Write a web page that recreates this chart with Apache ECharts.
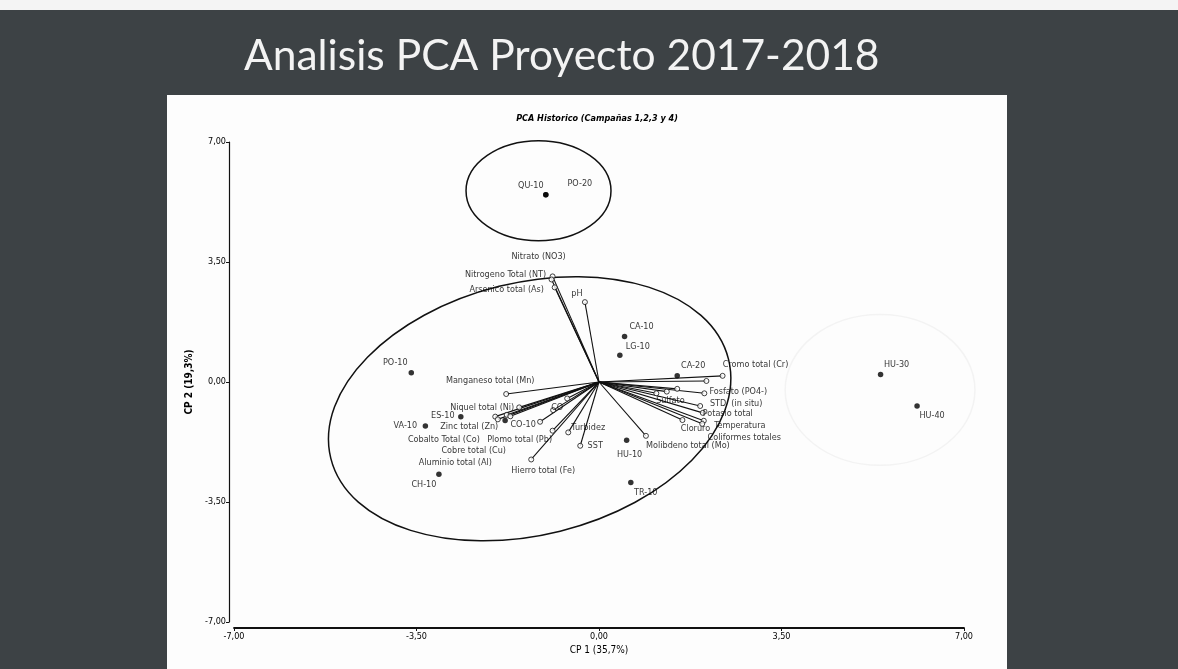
<!DOCTYPE html>
<html lang="es">
<head>
<meta charset="UTF-8"/>
<title>Analisis PCA Proyecto 2017-2018</title>
<script src="https://cdn.jsdelivr.net/npm/echarts@6/dist/echarts.min.js"></script>
<style>
    html, body {margin: 0; padding: 0; background: #3d4245;}
    #main {width: 1178px; height: 669px;}
</style>
</head>
<body>
<div id="main"></div>
<script type="text/javascript">
    // marcas de los ejes
    var ticks = [-7, -3.5, 0, 3.5, 7];

    // observaciones (puntos negros)
    var obsNames = ['QU-10', 'PO-20', 'CA-10', 'LG-10', 'CA-20', 'PO-10', 'ES-10', 'VA-10', 'CH-10', 'CO-10', 'HU-10', 'TR-10', 'HU-30', 'HU-40'];
    var obsX = [-1.02, -1.02, 0.49, 0.40, 1.50, -3.60, -2.65, -3.33, -3.07, -1.80, 0.53, 0.61, 5.40, 6.10];
    var obsY = [5.46, 5.46, 1.33, 0.78, 0.18, 0.27, -1.01, -1.28, -2.69, -1.12, -1.70, -2.93, 0.22, -0.70];

    // variables (vectores desde el origen)
    var varNames = ['Nitrato (NO3)', 'Nitrogeno Total (NT)', 'Arsenico total (As)', 'pH',
        'Cromo total (Cr)', '', 'Fosfato (PO4-)', 'STD  (in situ)', 'Sulfato', 'Potasio total',
        'Cloruro', 'Temperatura', 'Coliformes totales', 'Molibdeno total (Mo)',
        'Manganeso total (Mn)', 'Niquel total (Ni)', 'CO', 'Zinc total (Zn)', 'Cobalto Total (Co)',
        'Cobre total (Cu)', 'Aluminio total (Al)', 'Plomo total (Pb)', 'Hierro total (Fe)',
        'Turbidez', 'SST', '', '', '', ''];
    var varX = [-0.89, -0.91, -0.85, -0.27, 2.37, 2.06, 2.02, 1.94, 1.10, 1.99, 1.60, 2.01, 1.98, 0.90,
        -1.78, -1.53, -0.61, -1.99, -1.94, -1.77, -1.70, -0.89, -1.30, -0.59, -0.36, 1.50, 1.30, -1.13, -0.88];
    var varY = [3.08, 2.99, 2.76, 2.33, 0.18, 0.03, -0.33, -0.70, -0.33, -0.90, -1.11, -1.13, -1.22, -1.57,
        -0.35, -0.74, -0.48, -1.01, -1.09, -0.96, -1.00, -1.42, -2.26, -1.47, -1.86, -0.20, -0.28, -1.16, -0.82];

    // elipses: centro, radios, giro en grados
    var ellCx = [-1.16, -1.33, 5.39];
    var ellCy = [5.58, -0.78, -0.23];
    var ellRx = [1.39, 3.93, 1.82];
    var ellRy = [1.46, 3.68, 2.20];
    var ellRot = [0, 14, 0];
    var ellColor = ['#111', '#111', '#f3f3f3'];

    // desplazamiento de las etiquetas (px, centro del texto)
    var labelOffset = {
        'QU-10': [-15, -9], 'PO-20': [34, -11], 'CA-10': [17, -10], 'LG-10': [18, -9], 'CA-20': [16, -10],
        'PO-10': [-16, -10], 'ES-10': [-18, -1], 'VA-10': [-20, 0], 'CH-10': [-15, 10], 'CO-10': [18, 4],
        'HU-10': [3, 14], 'TR-10': [15, 10], 'HU-30': [16, -10], 'HU-40': [15, 10],
        'Nitrato (NO3)': [-14, -20], 'Nitrogeno Total (NT)': [-46, -5], 'Arsenico total (As)': [-48, 2],
        'pH': [-8, -8], 'Cromo total (Cr)': [33, -11], 'Fosfato (PO4-)': [34, -2], 'STD  (in situ)': [36, -2],
        'Sulfato': [14, 7], 'Potasio total': [25, 1], 'Cloruro': [13, 9], 'Temperatura': [36, 5],
        'Coliformes totales': [42, 14], 'Molibdeno total (Mo)': [42, 10], 'Manganeso total (Mn)': [-16, -13],
        'Niquel total (Ni)': [-37, 0], 'CO': [-10, 9], 'Zinc total (Zn)': [-26, 10], 'Cobalto Total (Co)': [-54, 20],
        'Cobre total (Cu)': [-33, 36], 'Aluminio total (Al)': [-55, 46], 'Plomo total (Pb)': [-33, 9],
        'Hierro total (Fe)': [12, 11], 'Turbidez': [20, -5], 'SST': [15, 0]
    };

    var narrow = "'Liberation Sans Narrow', 'DejaVu Sans Condensed', 'Liberation Sans', sans-serif";

    function fmt(v) {
        return v.toFixed(2).replace('.', ',');
    }

    function labelled(name, x, y) {
        var off = labelOffset[name] || [0, 0];
        return {
            name: name,
            value: [x, y],
            label: {show: name !== '', position: 'inside', offset: off}
        };
    }

    var obsData = obsNames.map(function (n, i) { return labelled(n, obsX[i], obsY[i]); });
    var varData = varNames.map(function (n, i) { return labelled(n, varX[i], varY[i]); });
    var varLines = varX.map(function (x, i) { return {coords: [[0, 0], [x, varY[i]]]}; });
    var ellData = ellCx.map(function (c, i) { return [c, ellCy[i], ellRx[i], ellRy[i], ellRot[i], i]; });

    var myChart = echarts.init(document.getElementById('main'));

    var option = {
        backgroundColor: '#3d4245',
        animation: false,
        graphic: [
            {type: 'rect', z: -10, shape: {x: 0, y: 0, width: 1178, height: 10}, style: {fill: '#f4f4f4'}},
            {type: 'rect', z: -10, shape: {x: 167, y: 95, width: 840, height: 574}, style: {fill: '#fdfdfd'}},
            {
                type: 'text', x: 244, y: 56, z: 10,
                style: {
                    text: 'Analisis PCA Proyecto 2017-2018', fill: '#f3f3f3', font: '42.5px Lato, sans-serif',
                    textAlign: 'left', textVerticalAlign: 'middle'
                }
            },
            {
                type: 'text', x: 597, y: 119, z: 10,
                style: {
                    text: 'PCA Historico (Campañas 1,2,3 y 4)', fill: '#000',
                    font: 'italic bold 9px ' + narrow, textAlign: 'center', textVerticalAlign: 'middle'
                }
            }
        ],
        grid: {left: 234, right: 214, top: 142, bottom: 47},
        xAxis: {
            type: 'value', min: ticks[0], max: ticks[ticks.length - 1], interval: 3.5,
            offset: 6,
            name: 'CP 1 (35,7%)', nameLocation: 'middle', nameGap: 16,
            nameTextStyle: {color: '#000', fontSize: 10, fontFamily: narrow},
            axisLine: {onZero: false, lineStyle: {color: '#111', width: 1.8}},
            axisTick: {length: 3, lineStyle: {color: '#111'}},
            axisLabel: {formatter: fmt, color: '#000', fontSize: 9, fontFamily: narrow, margin: 4},
            splitLine: {show: false}
        },
        yAxis: {
            type: 'value', min: ticks[0], max: ticks[ticks.length - 1], interval: 3.5,
            offset: 5,
            name: 'CP 2 (19,3%)', nameLocation: 'middle', nameGap: 22, nameRotate: 90,
            nameTextStyle: {color: '#000', fontSize: 10, fontWeight: 'bold', fontFamily: narrow},
            axisLine: {onZero: false, lineStyle: {color: '#111', width: 1.2}},
            axisTick: {length: 3, lineStyle: {color: '#111'}},
            axisLabel: {formatter: fmt, color: '#000', fontSize: 9, fontFamily: narrow, margin: 3},
            splitLine: {show: false}
        },
        series: [
            {
                type: 'custom',
                data: ellData,
                silent: true,
                z: 1,
                renderItem: function (params, api) {
                    var c = api.coord([api.value(0), api.value(1)]);
                    var s = api.size([api.value(2), api.value(3)]);
                    return {
                        type: 'ellipse',
                        x: c[0], y: c[1],
                        rotation: api.value(4) * Math.PI / 180,
                        shape: {cx: 0, cy: 0, rx: s[0], ry: s[1]},
                        style: {fill: 'none', stroke: ellColor[api.value(5)], lineWidth: 1.5}
                    };
                }
            },
            {
                type: 'lines',
                coordinateSystem: 'cartesian2d',
                data: varLines,
                silent: true,
                z: 2,
                lineStyle: {color: '#111', width: 1.1, opacity: 1}
            },
            {
                type: 'scatter',
                data: varData,
                symbol: 'circle',
                symbolSize: 5,
                z: 3,
                itemStyle: {color: '#fff', borderColor: '#111', borderWidth: 1},
                label: {formatter: '{b}', color: '#000', fontSize: 9, fontFamily: narrow}
            },
            {
                type: 'scatter',
                data: obsData,
                symbol: 'circle',
                symbolSize: 5.5,
                z: 4,
                itemStyle: {color: '#000'},
                label: {formatter: '{b}', color: '#000', fontSize: 9, fontFamily: narrow}
            }
        ]
    };

    myChart.setOption(option);
</script>
</body>
</html>
